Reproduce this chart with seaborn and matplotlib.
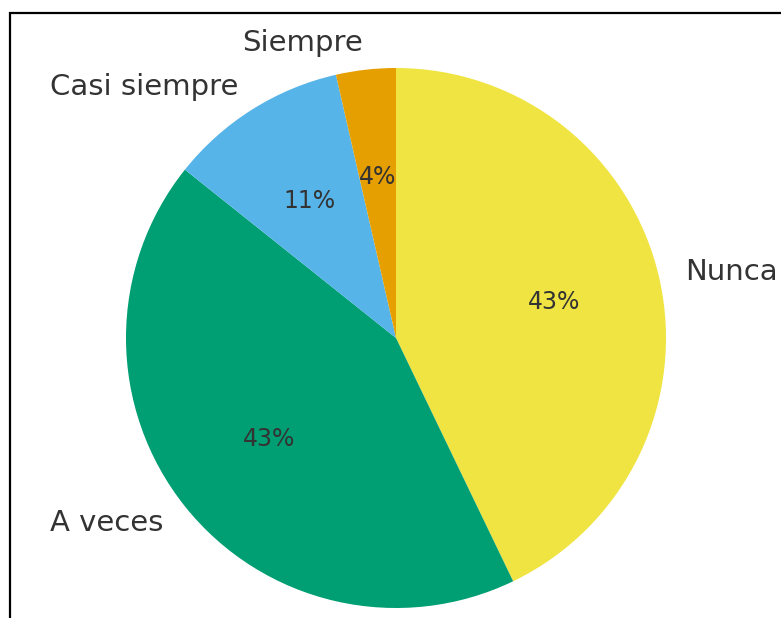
import matplotlib
matplotlib.use("Agg")
import matplotlib.pyplot as plt
import seaborn as sns
from matplotlib.patches import Rectangle

categories = ["Nunca", "A veces", "Casi siempre", "Siempre"]
counts = [12, 12, 3, 1]
colors = ["#F0E442", "#009E73", "#56B4E9", "#E69F00"]

sns.set_style("white")
plt.rcParams['font.family'] = ['DejaVu Sans']

fig = plt.figure(figsize=(7.81, 6.18), dpi=100)
W, H = 781, 618
# axes box placed so the pie centre sits at (396, 338) px with radius 270 px
size = 675
ax = fig.add_axes([(396 - size / 2) / W, (H - 338 - size / 2) / H, size / W, size / H])

wedges, texts, autotexts = ax.pie(
    counts, labels=categories, colors=colors, startangle=90, counterclock=False,
    autopct='%1.0f%%', pctdistance=0.6, labeldistance=1.1,
    wedgeprops={'linewidth': 0, 'edgecolor': 'none'},
    textprops={'color': '#333333'})
for t in texts:
    t.set_fontsize(21)
for t in autotexts:
    t.set_fontsize(17)
ax.set_aspect('equal')

# figure frame (cropped at right and bottom)
fig.patches.append(Rectangle((9.5 / W, -0.2), 1.5, (H - 13) / H + 0.2,
                             transform=fig.transFigure, fill=False,
                             edgecolor='black', linewidth=1.6, zorder=10))

fig.savefig("out.png", dpi=100)
